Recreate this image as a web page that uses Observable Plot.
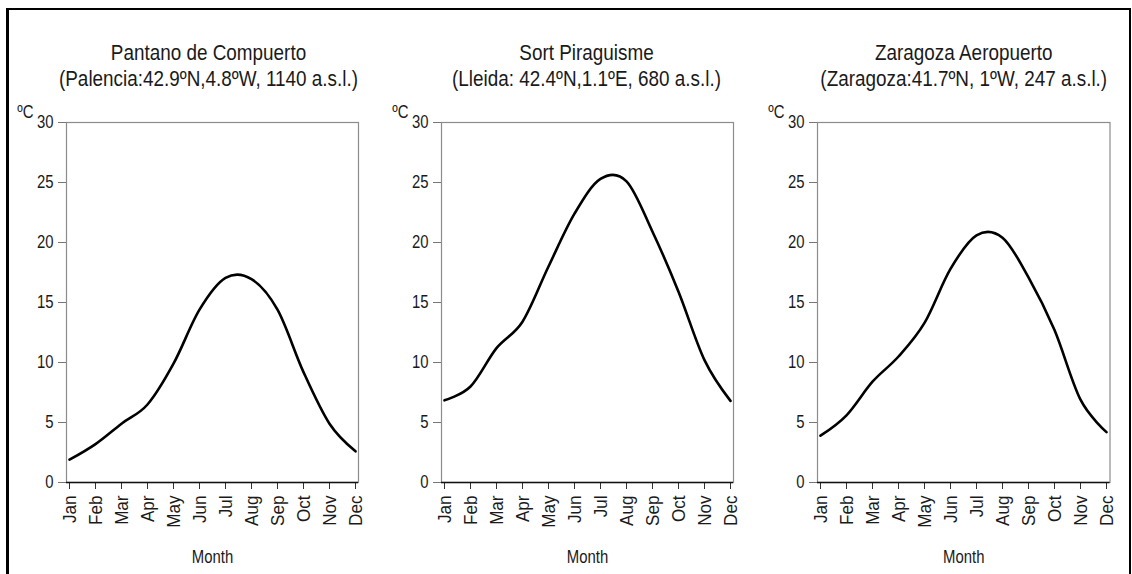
<!DOCTYPE html>
<html>
<head>
<meta charset="utf-8">
<script src="https://cdn.jsdelivr.net/npm/d3@7"></script>
<script src="https://cdn.jsdelivr.net/npm/@observablehq/plot@0.6"></script>
<style>
  html, body { margin: 0; padding: 0; background: #fff; overflow: hidden; }
  #page { position: relative; width: 1132px; height: 574px; overflow: hidden; background: #fff; }
  .panel { position: absolute; top: 0; }
  #border { position: absolute; left: 6px; top: 8px; width: 1125px; height: 640px; border: 2px solid #000; border-left-width: 3px; box-sizing: border-box; pointer-events: none; z-index: 5; }
</style>
</head>
<body>
<div id="page"><div id="border"></div></div>
<script>
const months = ["Jan","Feb","Mar","Apr","May","Jun","Jul","Aug","Sep","Oct","Nov","Dec"];
const pantano  = [1.9, 3.2, 4.9, 6.5, 9.9, 14.4, 17.05, 16.95, 14.4, 9.2, 4.9, 2.6];
const sort     = [6.85, 8.0, 11.2, 13.4, 18.0, 22.4, 25.3, 25.1, 20.9, 15.9, 10.2, 6.8];
const zaragoza = [3.9, 5.6, 8.4, 10.5, 13.3, 17.8, 20.6, 20.4, 17.1, 12.7, 6.9, 4.2];
const stationNames = ["Pantano de Compuerto", "Sort Piraguisme", "Zaragoza Aeropuerto"];
const stationInfo = [
  "(Palencia:42.9ºN,4.8ºW, 1140 a.s.l.)",
  "(Lleida: 42.4ºN,1.1ºE, 680 a.s.l.)",
  "(Zaragoza:41.7ºN, 1ºW, 247 a.s.l.)"
];
const yTicks = [0, 5, 10, 15, 20, 25, 30];
const yUnit = "ºC";
const xLabel = "Month";

const series = [pantano, sort, zaragoza];
const layout = [
  {left: 0,   width: 377, ml: 66, mr: 19,   tdx: -4},
  {left: 377, width: 377, ml: 64, mr: 21,   tdx: -1},
  {left: 754, width: 378, ml: 63, mr: 22.5, tdx: 0}
];
const font = "'Liberation Sans', Arial, sans-serif";
const page = document.getElementById("page");

// condense glyphs horizontally about each text's anchor (the reference uses a narrow sans face)
function narrowText(svg) {
  svg.querySelectorAll("text").forEach(t => {
    const b = t.getBBox();
    if (!b.width) return;
    const cs = getComputedStyle(t);
    const fs = parseFloat(cs.fontSize);
    const k = fs >= 22 ? 0.84 : fs >= 19 ? 0.9 : 0.8;
    const anchor = cs.textAnchor;
    const ax = anchor === "end" ? b.x + b.width : anchor === "middle" ? b.x + b.width / 2 : b.x;
    const tr = t.getAttribute("transform") || "";
    t.setAttribute("transform", `${tr} translate(${ax.toFixed(2)},0) scale(${k},1) translate(${(-ax).toFixed(2)},0)`.trim());
  });
}

series.forEach((vals, i) => {
  const L = layout[i];
  const data = months.map((m, j) => ({month: m, temp: vals[j]}));
  const chart = Plot.plot({
    width: L.width,
    height: 574,
    marginTop: 122,
    marginBottom: 92,
    marginLeft: L.ml,
    marginRight: L.mr,
    style: {fontFamily: font, fontSize: "18.6px", color: "#1a1a1a", background: "transparent", overflow: "visible"},
    x: {type: "point", domain: months, padding: 0},
    y: {domain: [0, 30]},
    marks: [
      Plot.frame({stroke: "#8c8c8c", strokeWidth: 1.2}),
      Plot.axisY({ticks: yTicks, tickSize: 8, tickPadding: 5, stroke: "#777", label: null}),
      Plot.axisX({tickRotate: -90, tickSize: 7, tickPadding: 6, stroke: "#333", label: null, fontSize: 19}),
      Plot.ruleY([0], {stroke: "#111", strokeWidth: 1.6}),
      Plot.line(data, {x: "month", y: "temp", curve: "cardinal", tension: 0, stroke: "#000", strokeWidth: 2.6}),
      Plot.text([stationNames[i]], {text: d => d, frameAnchor: "top", dx: L.tdx, dy: -63, lineAnchor: "bottom", fontSize: 22.5, fill: "#1a1a1a"}),
      Plot.text([stationInfo[i]], {text: d => d, frameAnchor: "top", dx: L.tdx, dy: -37, lineAnchor: "bottom", fontSize: 22.5, fill: "#1a1a1a"}),
      Plot.text([yUnit], {text: d => d, frameAnchor: "top-left", dx: -33, dy: -5, textAnchor: "end", lineAnchor: "bottom", fontSize: 18.6, fill: "#1a1a1a"}),
      Plot.text([xLabel], {text: d => d, frameAnchor: "bottom", dy: 80, lineAnchor: "bottom", fontSize: 18.6, fill: "#1a1a1a"})
    ]
  });
  chart.classList.add("panel");
  chart.style.left = L.left + "px";
  chart.style.position = "absolute";
  page.appendChild(chart);
  narrowText(chart);
});
</script>
</body>
</html>
